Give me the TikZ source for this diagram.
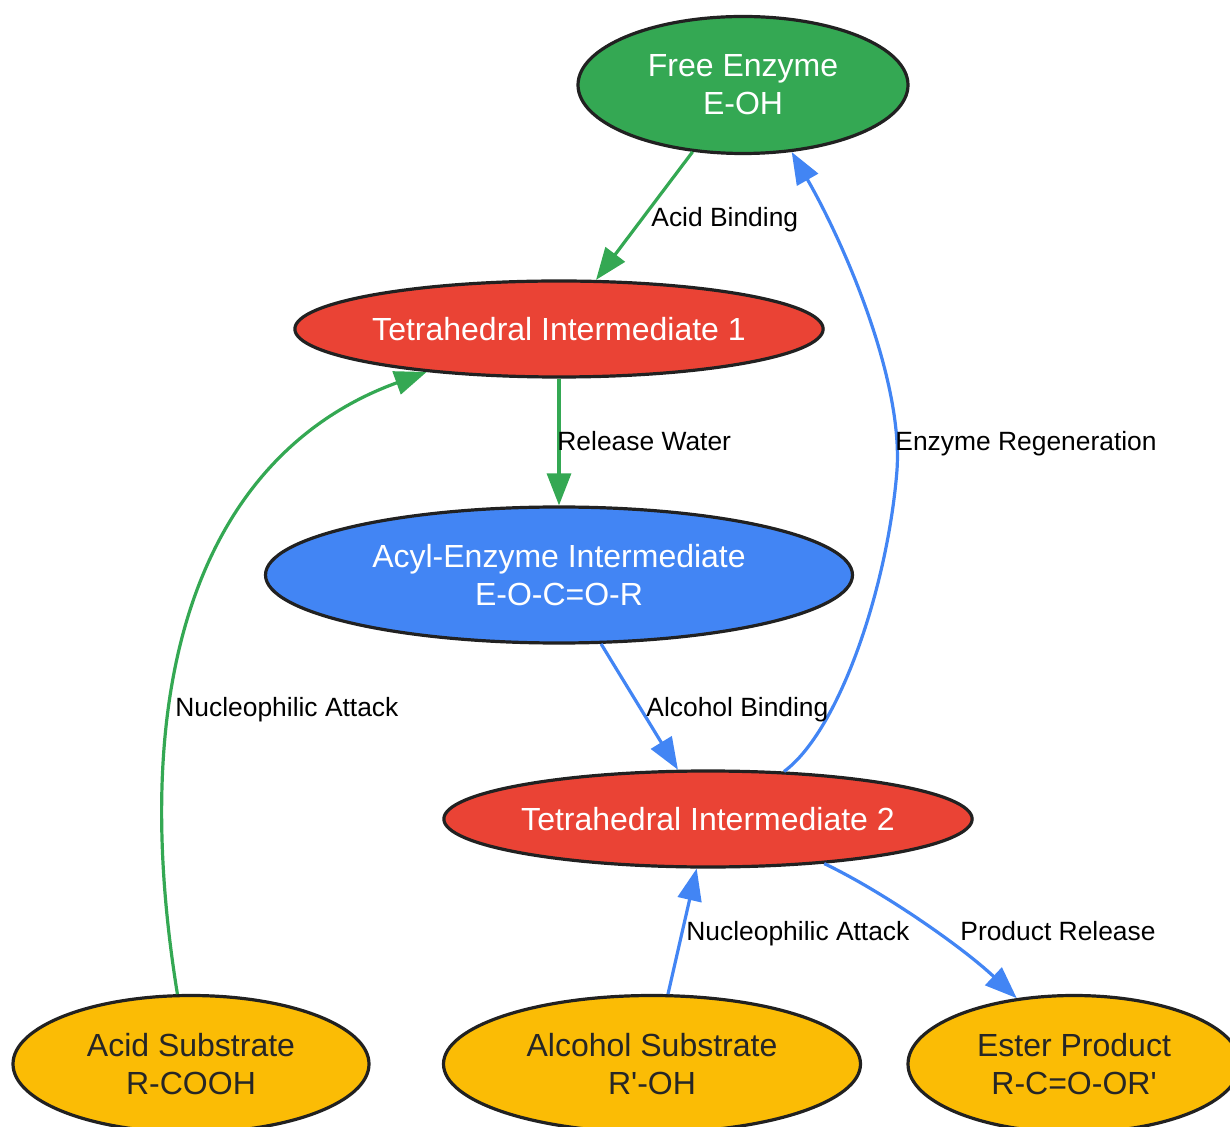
\documentclass[tikz,border=0pt]{standalone}
\usepackage{fontspec}
\setmainfont{Liberation Sans}
\usepackage{xcolor}
\usepackage{tikz}
\usetikzlibrary{shapes.geometric, arrows.meta, positioning}
\definecolor{enzgreen}{HTML}{34A853}
\definecolor{intred}{HTML}{EA4335}
\definecolor{acylblue}{HTML}{4285F4}
\definecolor{subyellow}{HTML}{FBBC05}
\definecolor{outline}{HTML}{212121}
\tikzset{
    species/.style={
        ellipse,
        draw=outline,
        line width=1.6pt,
        inner sep=0pt,
        align=center,
        font=\fontsize{16}{19}\selectfont
    },
    intermediate/.style={
        species,
        fill=intred,
        text=white,
        minimum width=263pt,
        minimum height=48pt
    },
    substrate/.style={
        species,
        fill=subyellow,
        text=black!85,
        minimum height=68.5pt
    },
    greenflow/.style={
        draw=enzgreen,
        line width=1.6pt,
        -{Triangle[length=16pt, width=12pt]}
    },
    blueflow/.style={
        draw=acylblue,
        line width=1.6pt,
        -{Triangle[length=16pt, width=12pt]}
    },
    steplabel/.style={
        anchor=base west,
        inner sep=0pt,
        font=\fontsize{13.2}{15}\selectfont
    }
}
\begin{document}
\begin{tikzpicture}[x=0.5pt, y=-0.5pt]
\clip (0,0) rectangle (1230,1127);

% Enzyme states
\node[species, fill=enzgreen, text=white, minimum width=165pt, minimum height=68.5pt] (free) at (743,85) {Free Enzyme\\E-OH};
\node[intermediate] (tetra1) at (559,329) {Tetrahedral Intermediate 1};
\node[species, fill=acylblue, text=white, minimum width=293.5pt, minimum height=68pt] (acyl) at (559,575) {Acyl-Enzyme Intermediate\\E-O-C=O-R};
\node[intermediate] (tetra2) at (708,819) {Tetrahedral Intermediate 2};

% Substrates and product
\node[substrate, minimum width=178pt] (acid) at (191,1064) {Acid Substrate\\R-COOH};
\node[substrate, minimum width=208.5pt] (alcohol) at (652,1064) {Alcohol Substrate\\R\textquotesingle-OH};
\node[substrate, minimum width=166pt] (ester) at (1074,1064) {Ester Product\\R-C=O-OR\textquotesingle};

% Acylation
\draw[greenflow] (free) -- (tetra1);
\draw[greenflow] (tetra1) -- (acyl);
\draw[greenflow] (acid.101) .. controls (120,640) and (225,445) .. (tetra1.198);

% Deacylation
\draw[blueflow] (acyl) -- (tetra2);
\draw[blueflow] (alcohol) -- (tetra2);
\draw[blueflow] (tetra2.-21.5) .. controls (880,890) and (960,945) .. (ester.131);
\draw[blueflow] (tetra2.32) .. controls (840,730) and (888,585) .. (897,470)
    .. controls (903,380) and (845,245) .. (free.-54);

% Step labels
\node[steplabel] (lbind) at (651,227) {Acid Binding};
\node[steplabel] (lwater) at (557,451) {Release Water};
\node[steplabel] (lattack1) at (175,716) {Nucleophilic Attack};
\node[steplabel] (lalc) at (646,716) {Alcohol Binding};
\node[steplabel] (lregen) at (895,451) {Enzyme Regeneration};
\node[steplabel] (lattack2) at (686,940) {Nucleophilic Attack};
\node[steplabel] (lrelease) at (960,940) {Product Release};

\end{tikzpicture}
\end{document}
